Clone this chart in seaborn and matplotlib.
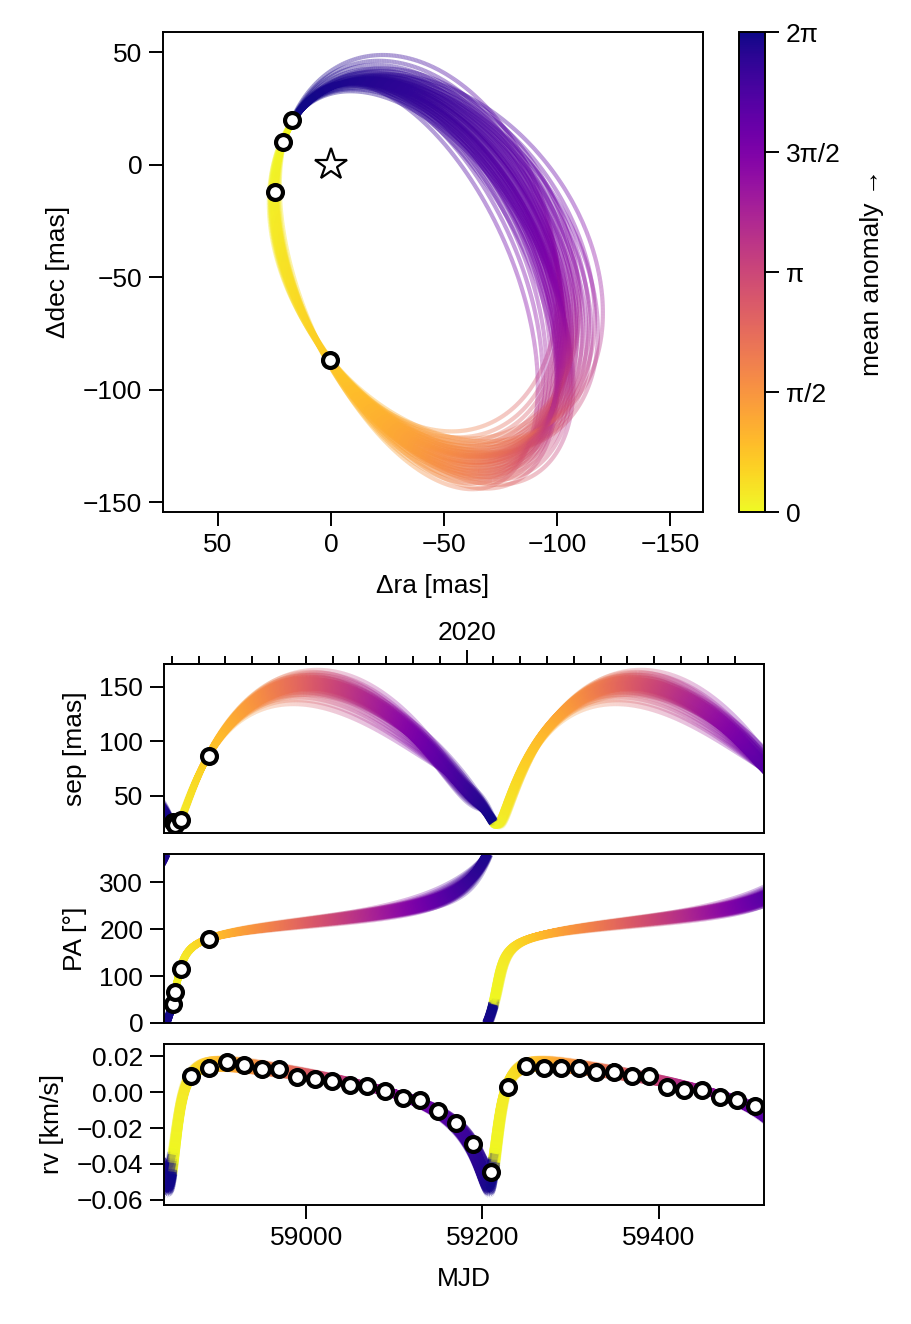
import numpy as np
import matplotlib
matplotlib.use('Agg')
import matplotlib.pyplot as plt
import seaborn as sns
from matplotlib.collections import LineCollection
from matplotlib.cm import ScalarMappable
from matplotlib.colors import Normalize
from matplotlib.ticker import FixedLocator, FuncFormatter

t_ast = np.array([58848.6, 58850.4, 58857.2, 58889.0])          # MJD of relative astrometry
ra_ast = np.array([17.3, 21.2, 24.8, 0.4])                       # mas
dec_ast = np.array([20.0, 9.8, -12.0, -87.0])                    # mas
t_rv = np.array([58869.5 + 20*k for k in range(33)])             # MJD of rv epochs
rv_v = np.array([0.0087, 0.0136, 0.0169, 0.0149, 0.0127, 0.0127, 0.0085, 0.0070, 0.0061, 0.0041, 0.0035,
                 0.0005, -0.0031, -0.0046, -0.0104, -0.0173, -0.0287, -0.0446, 0.0029, 0.0145, 0.0132,
                 0.0136, 0.0136, 0.0109, 0.0114, 0.0090, 0.0090, 0.0026, 0.0013, 0.0013, -0.0027,
                 -0.0044, -0.0076])
rv_err = 0.0045

# ---- orbit draws: central solution (index 0) and eight edge solutions of the posterior ----
a_s = [99.0438, 102.68, 100.27, 99.706, 101.98, 102.02, 100.67, 100.12, 100.84]          # mas
inc_s = [0.767139, 0.86734, 0.75659, 0.63231, 0.92764, 0.8568, 0.74331, 0.61413, 0.84181]  # rad
om_s = [0.775632, 1.0514, 0.49619, 0.83727, 0.56669, 0.53974, 0.99706, 1.0124, 0.62249]    # rad
Om_s = [0.0849466, -0.017469, 0.2676, 0.06393, 0.20322, 0.23525, -0.032719, -0.076641, 0.19175]
e_s = [0.708757, 0.67262, 0.72334, 0.71308, 0.69568, 0.70571, 0.6978, 0.71263, 0.70212]
omrv_s = [0.708874, 0.79672, 0.77122, 0.77959, 0.76432, 0.76523, 0.78244, 0.78209, 0.7675]
K_s = [-0.0312991, -0.028715, -0.030588, -0.030217, -0.029604, -0.029943, -0.029651, -0.030205, -0.029821]
tp_s = [58848.2, 58849, 58847, 58849, 58846, 58847, 58849, 58849, 58847]                  # MJD
P_s = [362.106, 366.02, 367.72, 366.46, 367.8, 367.51, 365.95, 366.15, 367.17]            # days
frac = [0.1, 0.2, 0.35, 0.5, 0.65, 0.8, 1.0]
k_fac = [1.08, 0.95, 1.14, 1.0, 1.2, 0.93, 1.1]

cb_ticks = [0, np.pi/2, np.pi, 3*np.pi/2, 2*np.pi]
cb_labels = ['0', 'π/2', 'π', '3π/2', '2π']
year_major = [2020]


def kep(M, e):
    E = M + e*np.sin(M)
    for _ in range(40):
        E = E - (E - e*np.sin(E) - M)/(1 - e*np.cos(E))
    return E


def astro(t, a, e, i, w, O, tp, P):
    E = kep(2*np.pi*(t-tp)/P, e)
    X = np.cos(E)-e
    Y = np.sqrt(1-e*e)*np.sin(E)
    A = a*(np.cos(w)*np.cos(O)-np.sin(w)*np.sin(O)*np.cos(i))
    B = a*(np.cos(w)*np.sin(O)+np.sin(w)*np.cos(O)*np.cos(i))
    F = a*(-np.sin(w)*np.cos(O)-np.cos(w)*np.sin(O)*np.cos(i))
    G = a*(-np.sin(w)*np.sin(O)+np.cos(w)*np.cos(O)*np.cos(i))
    return B*X+G*Y, A*X+F*Y


def rvm(t, e, wr, K, tp, P):
    E = kep(2*np.pi*(t-tp)/P, e)
    nu = 2*np.arctan2(np.sqrt(1+e)*np.sin(E/2), np.sqrt(1-e)*np.cos(E/2))
    return K*(np.cos(nu+wr)+e*np.cos(wr))


elems = np.array([a_s, e_s, inc_s, om_s, Om_s, omrv_s, K_s, tp_s, P_s], float)
draws = [elems[:, 0]]
for j in range(1, elems.shape[1]):
    for f, kf in zip(frac, k_fac):
        d = elems[:, 0] + f*(elems[:, j]-elems[:, 0])
        d[6] *= kf
        draws.append(d)

sns.set_theme(style='ticks')
plt.rcParams['font.family'] = ['Liberation Sans', 'DejaVu Sans']
plt.rcParams['axes.unicode_minus'] = True
for key in ('text.color', 'axes.labelcolor', 'xtick.color', 'ytick.color', 'axes.edgecolor'):
    plt.rcParams[key] = 'black'
FS = 19
cmap = plt.get_cmap('plasma_r')
norm = Normalize(0, 2*np.pi)

fig = plt.figure(figsize=(9.12, 13.24), dpi=100)
W, H = 912, 1324


def add_ax(x0, y0, x1, y1):
    return fig.add_axes([x0/W, 1-y1/H, (x1-x0)/W, (y1-y0)/H])


ax0 = add_ax(163, 32, 703, 512)
cax = add_ax(739, 32, 765, 512)
ax1 = add_ax(164, 664, 764, 833)
ax2 = add_ax(164, 854, 764, 1023)
ax3 = add_ax(164, 1044, 764, 1205)


def cline(ax, x, y, m, lw, alpha, brk=None):
    pts = np.column_stack([x, y]).reshape(-1, 1, 2)
    segs = np.concatenate([pts[:-1], pts[1:]], axis=1)
    c = m[:-1]
    if brk is not None:
        keep = np.abs(np.diff(y)) < brk
        segs = segs[keep]
        c = c[keep]
    lc = LineCollection(segs, cmap=cmap, norm=norm, linewidths=lw, alpha=alpha, capstyle='butt')
    lc.set_array(c)
    ax.add_collection(lc)


Mg = np.linspace(0, 2*np.pi, 900)
tg = np.linspace(58836, 59522, 1400)
for a, e, i, w, O, wr, K, tp, P in draws:
    r, d = astro(tp+Mg/(2*np.pi)*P, a, e, i, w, O, tp, P)
    cline(ax0, r, d, Mg, 3.0, 0.4)
    m = (2*np.pi*(tg-tp)/P) % (2*np.pi)
    r, d = astro(tg, a, e, i, w, O, tp, P)
    cline(ax1, tg, np.hypot(r, d), m, 4.5, 0.3)
    cline(ax2, tg, np.degrees(np.arctan2(r, d)) % 360, m, 5.0, 0.3, brk=100)
    cline(ax3, tg, rvm(tg, e, wr, K, tp, P), m, 6.0, 0.3)

mk = dict(marker='o', s=115, facecolor='white', edgecolor='black', linewidth=3.0, zorder=5, legend=False)
sns.scatterplot(x=ra_ast, y=dec_ast, ax=ax0, **mk)
ax0.plot([0], [0], marker='*', ms=24, mfc='white', mec='black', mew=1.6, zorder=5)
sep_ast = np.hypot(ra_ast, dec_ast)
pa_ast = np.degrees(np.arctan2(ra_ast, dec_ast)) % 360
sns.scatterplot(x=t_ast, y=sep_ast, ax=ax1, **mk)
sns.scatterplot(x=t_ast, y=pa_ast, ax=ax2, **mk)
ax3.errorbar(t_rv, rv_v, yerr=rv_err, fmt='none', ecolor='black', elinewidth=2.8, zorder=4)
sns.scatterplot(x=t_rv, y=rv_v, ax=ax3, **mk)

ax0.set_xlim(74.3, -164.6)
ax0.set_ylim(-154.4, 58.9)
ax0.set_xticks([50, 0, -50, -100, -150])
ax0.set_yticks([50, 0, -50, -100, -150])
ax0.set_xlabel('Δra [mas]', fontsize=FS, labelpad=12)
ax0.set_ylabel('Δdec [mas]', fontsize=FS, labelpad=9)

for ax in (ax1, ax2, ax3):
    ax.set_xlim(58838.4, 59519.8)
ax1.set_ylim(16, 171)
ax1.set_yticks([50, 100, 150])
ax1.set_ylabel('sep [mas]', fontsize=FS, labelpad=9)
ax2.set_ylim(0, 360)
ax2.set_yticks([0, 100, 200, 300])
ax2.set_ylabel('PA [°]', fontsize=FS, labelpad=9)
ax3.set_ylim(-0.0628, 0.0267)
ax3.set_yticks([-0.06, -0.04, -0.02, 0.0, 0.02])
ax3.yaxis.set_major_formatter(FuncFormatter(lambda v, _: f'{v:.2f}'.replace('-', '−')))
ax3.set_xticks([59000, 59200, 59400])
ax3.set_xlabel('MJD', fontsize=FS, labelpad=12)
ax3.set_ylabel('rv [km/s]', fontsize=FS, labelpad=9)
for ax in (ax1, ax2):
    ax.tick_params(axis='x', bottom=False, labelbottom=False)

for ax in (ax0, ax1, ax2, ax3, cax):
    for s in ax.spines.values():
        s.set_linewidth(1.4)
        s.set_color('black')
    ax.tick_params(direction='out', length=10, width=1.4, pad=5, labelsize=FS, color='black', labelcolor='black')

sec = ax1.secondary_xaxis('top', functions=(lambda x: 2020+(x-59182)/365.25, lambda y: 59182+(y-2020)*365.25))
sec.xaxis.set_major_locator(FixedLocator(year_major))
sec.xaxis.set_major_formatter(FuncFormatter(lambda v, _: f'{v:.0f}'))
sec.xaxis.set_minor_locator(FixedLocator(2019+np.arange(1, 23)/12))
sec.tick_params(which='major', direction='out', length=10, width=1.4, pad=4, labelsize=FS)
sec.tick_params(which='minor', direction='out', length=6, width=1.4)
sec.spines['top'].set_linewidth(1.4)

cb = fig.colorbar(ScalarMappable(norm=norm, cmap=cmap), cax=cax)
cb.set_ticks(cb_ticks)
cb.set_ticklabels(cb_labels)
cb.outline.set_linewidth(1.4)
cax.tick_params(length=10, width=1.4, pad=5, labelsize=FS)
cb.set_label('mean anomaly →', fontsize=FS, labelpad=14)

fig.savefig('out.png', dpi=100)
